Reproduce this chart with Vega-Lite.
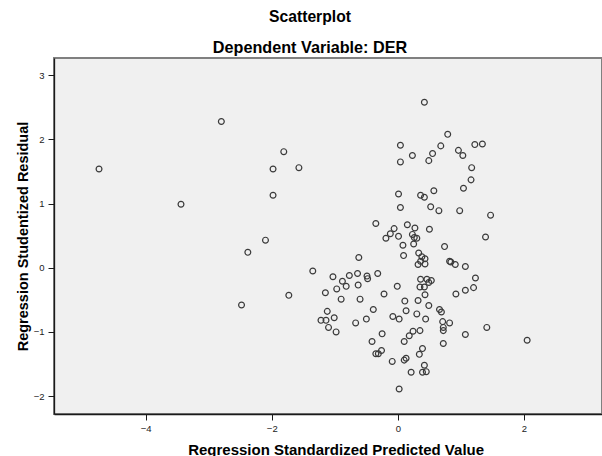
{
  "$schema": "https://vega.github.io/schema/vega-lite/v6.json",
  "width": 548,
  "height": 356,
  "autosize": {"type": "none"},
  "padding": {"left": 54, "top": 58, "right": 0, "bottom": 42},
  "background": "white",
  "title": {
    "text": "Scatterplot",
    "subtitle": "Dependent Variable: DER",
    "anchor": "middle",
    "frame": "group",
    "dx": -18,
    "font": "Liberation Sans",
    "subtitleFont": "Liberation Sans",
    "fontSize": 15.7,
    "subtitleFontSize": 16.2,
    "fontWeight": "bold",
    "subtitleFontWeight": "bold",
    "color": "#000000",
    "subtitleColor": "#000000",
    "offset": 1,
    "subtitlePadding": 14
  },
  "data": {
    "values": [
      {"pred": -4.74, "resid": 1.54}, {"pred": -3.44, "resid": 0.99}, {"pred": -2.80, "resid": 2.28},
      {"pred": -1.81, "resid": 1.81}, {"pred": -1.98, "resid": 1.54}, {"pred": -1.57, "resid": 1.56},
      {"pred": -1.98, "resid": 1.13}, {"pred": -2.10, "resid": 0.43}, {"pred": -2.38, "resid": 0.24},
      {"pred": -2.48, "resid": -0.58}, {"pred": -1.73, "resid": -0.43}, {"pred": -1.35, "resid": -0.05},
      {"pred": 0.42, "resid": 2.58}, {"pred": 0.79, "resid": 2.08}, {"pred": 0.04, "resid": 1.91},
      {"pred": 0.68, "resid": 1.90}, {"pred": 1.22, "resid": 1.92}, {"pred": 1.34, "resid": 1.93},
      {"pred": 0.96, "resid": 1.83}, {"pred": 1.03, "resid": 1.75}, {"pred": 0.23, "resid": 1.75},
      {"pred": 0.55, "resid": 1.78}, {"pred": 0.49, "resid": 1.67}, {"pred": 0.04, "resid": 1.65},
      {"pred": 1.17, "resid": 1.56}, {"pred": 1.16, "resid": 1.37}, {"pred": 1.04, "resid": 1.24},
      {"pred": 0.57, "resid": 1.20}, {"pred": 0.01, "resid": 1.15}, {"pred": 0.36, "resid": 1.13},
      {"pred": 0.42, "resid": 1.10}, {"pred": 0.04, "resid": 0.94}, {"pred": 0.52, "resid": 0.95},
      {"pred": 0.65, "resid": 0.89}, {"pred": 0.98, "resid": 0.89}, {"pred": 1.47, "resid": 0.82},
      {"pred": 1.39, "resid": 0.48}, {"pred": -0.35, "resid": 0.69}, {"pred": -0.06, "resid": 0.61},
      {"pred": 0.15, "resid": 0.67}, {"pred": 0.27, "resid": 0.62}, {"pred": 0.50, "resid": 0.60},
      {"pred": -0.12, "resid": 0.53}, {"pred": -0.19, "resid": 0.46}, {"pred": 0.01, "resid": 0.49},
      {"pred": 0.23, "resid": 0.52}, {"pred": 0.26, "resid": 0.47}, {"pred": 0.30, "resid": 0.46},
      {"pred": 0.08, "resid": 0.35}, {"pred": 0.25, "resid": 0.37}, {"pred": 0.74, "resid": 0.33},
      {"pred": 0.09, "resid": 0.19}, {"pred": -0.62, "resid": 0.16}, {"pred": 0.33, "resid": 0.23},
      {"pred": 0.38, "resid": 0.17}, {"pred": 0.43, "resid": 0.14}, {"pred": 0.36, "resid": 0.10},
      {"pred": 0.43, "resid": 0.06}, {"pred": 0.32, "resid": 0.05}, {"pred": 0.82, "resid": 0.10},
      {"pred": 0.84, "resid": 0.09}, {"pred": 0.91, "resid": 0.05}, {"pred": 1.07, "resid": 0.02},
      {"pred": 1.23, "resid": -0.16}, {"pred": 1.20, "resid": -0.31}, {"pred": 1.07, "resid": -0.35},
      {"pred": 0.92, "resid": -0.41}, {"pred": 0.36, "resid": -0.18}, {"pred": 0.46, "resid": -0.18},
      {"pred": 0.53, "resid": -0.20}, {"pred": 0.49, "resid": -0.23}, {"pred": 0.35, "resid": -0.30},
      {"pred": 0.42, "resid": -0.30}, {"pred": 0.43, "resid": -0.42}, {"pred": -0.01, "resid": -0.29},
      {"pred": 0.49, "resid": -0.59}, {"pred": 0.32, "resid": -0.51}, {"pred": 0.11, "resid": -0.52},
      {"pred": 0.13, "resid": -0.67}, {"pred": 0.66, "resid": -0.65}, {"pred": 0.69, "resid": -0.69},
      {"pred": 0.71, "resid": -0.84}, {"pred": 0.82, "resid": -0.86}, {"pred": 0.72, "resid": -0.93},
      {"pred": 0.72, "resid": -0.98}, {"pred": 0.30, "resid": -0.72}, {"pred": 0.44, "resid": -0.80},
      {"pred": -0.08, "resid": -0.76}, {"pred": 0.02, "resid": -0.80}, {"pred": 1.41, "resid": -0.93},
      {"pred": 1.07, "resid": -1.04}, {"pred": 2.05, "resid": -1.13}, {"pred": 0.24, "resid": -0.99},
      {"pred": 0.35, "resid": -0.98}, {"pred": 0.18, "resid": -1.06}, {"pred": 0.10, "resid": -1.15},
      {"pred": 0.72, "resid": -1.18}, {"pred": -0.25, "resid": -1.03}, {"pred": -0.41, "resid": -1.15},
      {"pred": 0.39, "resid": -1.26}, {"pred": -0.26, "resid": -1.29}, {"pred": -0.31, "resid": -1.34},
      {"pred": -0.35, "resid": -1.34}, {"pred": 0.34, "resid": -1.35}, {"pred": -0.09, "resid": -1.46},
      {"pred": 0.13, "resid": -1.41}, {"pred": 0.10, "resid": -1.44}, {"pred": 0.42, "resid": -1.52},
      {"pred": 0.21, "resid": -1.63}, {"pred": 0.39, "resid": -1.63}, {"pred": 0.45, "resid": -1.62},
      {"pred": 0.02, "resid": -1.89}, {"pred": -1.03, "resid": -0.14}, {"pred": -0.88, "resid": -0.21},
      {"pred": -0.77, "resid": -0.12}, {"pred": -0.64, "resid": -0.09}, {"pred": -0.49, "resid": -0.13},
      {"pred": -0.48, "resid": -0.17}, {"pred": -0.32, "resid": -0.09}, {"pred": -0.82, "resid": -0.29},
      {"pred": -0.97, "resid": -0.33}, {"pred": -0.63, "resid": -0.27}, {"pred": -1.15, "resid": -0.39},
      {"pred": -0.90, "resid": -0.49}, {"pred": -0.60, "resid": -0.49}, {"pred": -0.22, "resid": -0.41},
      {"pred": -0.39, "resid": -0.65}, {"pred": -1.12, "resid": -0.68}, {"pred": -1.22, "resid": -0.82},
      {"pred": -1.14, "resid": -0.82}, {"pred": -1.01, "resid": -0.78}, {"pred": -1.10, "resid": -0.93},
      {"pred": -0.98, "resid": -1.00}, {"pred": -0.67, "resid": -0.86}, {"pred": -0.50, "resid": -0.80}
    ]
  },
  "mark": {"type": "point", "filled": false, "size": 34, "strokeWidth": 1.2, "color": "#3a3a3a", "opacity": 1, "clip": true},
  "encoding": {
    "x": {
      "field": "pred",
      "type": "quantitative",
      "scale": {"domain": [-5.454, 3.237], "nice": false, "zero": false},
      "axis": {
        "values": [-4, -2, 0, 2],
        "title": "Regression Standardized Predicted Value",
        "titleX": 281.6,
        "titleY": 40.3,
        "titleAlign": "center",
        "titleBaseline": "alphabetic",
        "titleFontSize": 15,
        "labelPadding": 3
      }
    },
    "y": {
      "field": "resid",
      "type": "quantitative",
      "scale": {"domain": [-2.28, 3.27], "nice": false, "zero": false},
      "axis": {
        "values": [-2, -1, 0, 1, 2, 3],
        "title": "Regression Studentized Residual",
        "titleX": -26.5,
        "titleY": 178,
        "titleAngle": -90,
        "titleAlign": "center",
        "titleBaseline": "alphabetic",
        "titleFontSize": 14.5,
        "labelPadding": 4
      }
    }
  },
  "config": {
    "font": "Liberation Sans",
    "view": {"fill": "#f0f0f0", "stroke": "#808080", "strokeWidth": 2},
    "axis": {
      "grid": false,
      "domainColor": "#1a1a1a",
      "domainWidth": 1.3,
      "tickColor": "#1a1a1a",
      "tickSize": 6,
      "tickWidth": 1,
      "labelFont": "Liberation Sans",
      "labelFontSize": 9.5,
      "labelColor": "#222222",
      "titleFont": "Liberation Sans",
      "titleFontWeight": "bold",
      "titleColor": "#000000"
    }
  }
}
